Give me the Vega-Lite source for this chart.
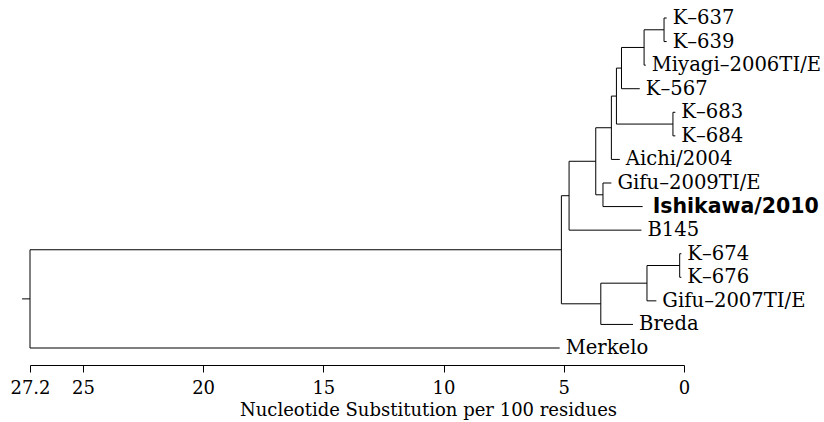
{
  "$schema": "https://vega.github.io/schema/vega-lite/v6.json",
  "width": 654,
  "height": 330,
  "autosize": {"type": "none"},
  "padding": {"left": 30, "top": 18, "right": 140, "bottom": 74},
  "background": "white",
  "config": {"view": {"stroke": null}},
  "datasets": {
    "nodes": [
      {"name": "K–637", "leaf": true, "x": 0.72, "px": 0.83, "y": 0},
      {"name": "K–639", "leaf": true, "x": 0.72, "px": 0.83, "y": 1},
      {"name": "Miyagi–2006TI/E", "leaf": true, "x": 1.59, "px": 1.66, "y": 2},
      {"name": "K–567", "leaf": true, "x": 1.84, "px": 2.6, "y": 3},
      {"name": "K–683", "leaf": true, "x": 0.36, "px": 0.46, "y": 4},
      {"name": "K–684", "leaf": true, "x": 0.36, "px": 0.46, "y": 5},
      {"name": "Aichi/2004", "leaf": true, "x": 2.67, "px": 3.02, "y": 6},
      {"name": "Gifu–2009TI/E", "leaf": true, "x": 3.02, "px": 3.37, "y": 7},
      {"name": "Ishikawa/2010", "leaf": true, "highlight": true, "x": 1.72, "px": 3.37, "y": 8},
      {"name": "B145", "leaf": true, "x": 1.77, "px": 4.78, "y": 9},
      {"name": "K–674", "leaf": true, "x": 0.11, "px": 0.18, "y": 10},
      {"name": "K–676", "leaf": true, "x": 0.11, "px": 0.18, "y": 11},
      {"name": "Gifu–2007TI/E", "leaf": true, "x": 1.15, "px": 1.54, "y": 12},
      {"name": "Breda", "leaf": true, "x": 2.12, "px": 3.46, "y": 13},
      {"name": "Merkelo", "leaf": true, "x": 5.17, "px": 27.2, "y": 14},
      {"name": "I", "leaf": false, "x": 0.83, "px": 1.66, "y": 0.5, "ymin": 0, "ymax": 1},
      {"name": "H", "leaf": false, "x": 1.66, "px": 2.6, "y": 1.25, "ymin": 0.5, "ymax": 2},
      {"name": "G", "leaf": false, "x": 2.6, "px": 2.81, "y": 2.125, "ymin": 1.25, "ymax": 3},
      {"name": "F", "leaf": false, "x": 0.46, "px": 2.81, "y": 4.5, "ymin": 4, "ymax": 5},
      {"name": "E", "leaf": false, "x": 2.81, "px": 3.02, "y": 3.3125, "ymin": 2.125, "ymax": 4.5},
      {"name": "D", "leaf": false, "x": 3.02, "px": 3.67, "y": 4.656, "ymin": 3.3125, "ymax": 6},
      {"name": "C", "leaf": false, "x": 3.37, "px": 3.67, "y": 7.5, "ymin": 7, "ymax": 8},
      {"name": "B", "leaf": false, "x": 3.67, "px": 4.78, "y": 6.078, "ymin": 4.656, "ymax": 7.5},
      {"name": "A", "leaf": false, "x": 4.78, "px": 5.1, "y": 7.539, "ymin": 6.078, "ymax": 9},
      {"name": "L", "leaf": false, "x": 0.18, "px": 1.54, "y": 10.5, "ymin": 10, "ymax": 11},
      {"name": "K", "leaf": false, "x": 1.54, "px": 3.46, "y": 11.25, "ymin": 10.5, "ymax": 12},
      {"name": "J", "leaf": false, "x": 3.46, "px": 5.1, "y": 12.125, "ymin": 11.25, "ymax": 13},
      {"name": "Ingroup", "leaf": false, "x": 5.1, "px": 27.2, "y": 9.832, "ymin": 7.539, "ymax": 12.125},
      {"name": "Root", "leaf": false, "x": 27.2, "px": 27.53, "y": 11.916, "ymin": 9.832, "ymax": 14}
    ]
  },
  "data": {"name": "nodes"},
  "layer": [
    {
      "mark": {"type": "rule", "color": "black", "strokeWidth": 1},
      "encoding": {
        "x": {
          "field": "px", "type": "quantitative",
          "scale": {"domain": [0, 27.2], "reverse": true, "nice": false, "zero": false},
          "axis": {
            "values": [27.2, 25, 20, 15, 10, 5, 0],
            "labelExpr": "'' + datum.value",
            "grid": false,
            "offset": 17,
            "domainColor": "black",
            "domainWidth": 1,
            "tickColor": "black",
            "tickSize": 7,
            "tickWidth": 1,
            "labelFont": "DejaVu Serif",
            "labelFontSize": 18,
            "labelColor": "black",
            "labelBaseline": "alphabetic",
            "labelPadding": 21,
            "labelFlush": false,
            "labelOverlap": false,
            "title": "Nucleotide Substitution per 100 residues",
            "titleFont": "DejaVu Serif",
            "titleFontSize": 18,
            "titleFontWeight": "normal",
            "titleColor": "black",
            "titleX": 398,
            "titleY": 50,
            "titleAlign": "center",
            "titleBaseline": "alphabetic"
          }
        },
        "x2": {"field": "x"},
        "y": {
          "field": "y", "type": "quantitative",
          "scale": {"domain": [0, 14], "reverse": true, "nice": false, "zero": false},
          "axis": null
        }
      }
    },
    {
      "transform": [{"filter": "!datum.leaf"}],
      "mark": {"type": "rule", "color": "black", "strokeWidth": 1},
      "encoding": {
        "x": {"field": "x", "type": "quantitative"},
        "y": {"field": "ymin", "type": "quantitative"},
        "y2": {"field": "ymax"}
      }
    },
    {
      "transform": [{"filter": "datum.leaf && !datum.highlight"}],
      "mark": {"type": "text", "align": "left", "baseline": "middle", "dx": 6, "font": "DejaVu Serif", "fontSize": 19.6, "color": "black"},
      "encoding": {
        "x": {"field": "x", "type": "quantitative"},
        "y": {"field": "y", "type": "quantitative"},
        "text": {"field": "name"}
      }
    },
    {
      "transform": [{"filter": "datum.highlight"}],
      "mark": {"type": "text", "align": "left", "baseline": "middle", "dx": 10, "font": "DejaVu Sans", "fontWeight": "bold", "fontSize": 20.5, "color": "black"},
      "encoding": {
        "x": {"field": "x", "type": "quantitative"},
        "y": {"field": "y", "type": "quantitative"},
        "text": {"field": "name"}
      }
    }
  ]
}
